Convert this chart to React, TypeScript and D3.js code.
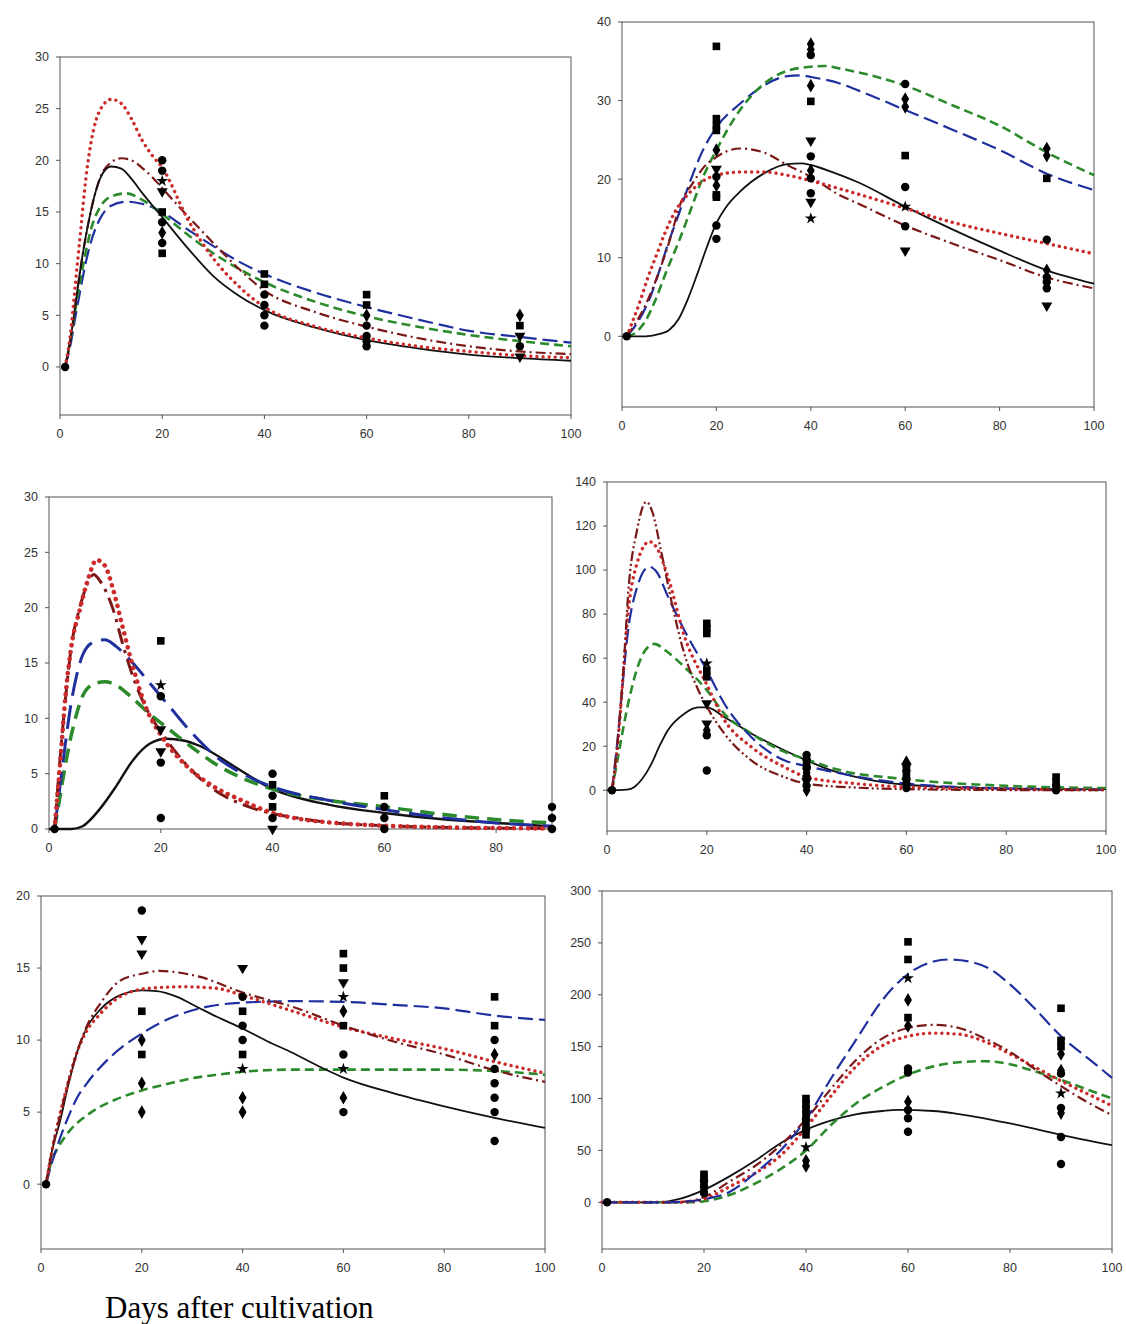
import React from "react";
import * as d3 from "d3";

type Pt = [number, number];
type Mk = [number, number, string];

// ---------- Panel 1 (top-left) ----------
const p1Black: Pt[] = [[1,0],[2,2.5],[3,6],[4,9.5],[5,12.5],[6,15],[7,17],[8,18.4],[10,19.4],[12,19.2],[14,18.2],[16,16.9],[20,14.5],[25,11.5],[30,8.8],[35,6.9],[40,5.5],[50,3.8],[60,2.6],[70,1.8],[80,1.2],[90,0.85],[100,0.6]];
const p1Red: Pt[] = [[1,0],[2,3],[3,8],[4,13],[5,18],[6,21.5],[7,23.8],[8,25],[10,25.9],[12,25.5],[14,24],[16,22],[18,20.5],[20,19.3],[25,14.3],[30,10.5],[35,7.8],[40,5.8],[50,3.9],[60,2.8],[70,2],[80,1.5],[90,1.1],[100,0.9]];
const p1DarkRed: Pt[] = [[1,0],[2,2.5],[3,6],[4,9.5],[5,12.5],[6,15],[7,17],[8,18.5],[10,19.8],[12,20.2],[14,20],[16,19.3],[18,18.4],[20,17.3],[25,14.6],[30,12],[35,9.5],[40,7.4],[50,5.3],[60,3.9],[70,2.8],[80,2],[90,1.5],[100,1.25]];
const p1Green: Pt[] = [[1,0],[2,2.5],[3,5.5],[4,8.5],[5,11],[6,13.2],[8,15.6],[10,16.5],[13,16.8],[16,16.2],[20,14.8],[25,12.8],[30,11],[35,9.5],[40,8.2],[50,6.3],[60,4.9],[70,3.9],[80,3.1],[90,2.5],[100,2.0]];
const p1Blue: Pt[] = [[1,0],[2,2],[3,4.8],[4,7.5],[5,10],[6,12],[8,14.5],[10,15.6],[13,16],[16,15.8],[20,15],[25,13.3],[30,11.7],[35,10.2],[40,9],[50,7.2],[60,5.8],[70,4.6],[80,3.5],[90,2.9],[100,2.35]];
const p1Points: Mk[] = [[1,0,"c"],[20,20,"c"],[20,19,"c"],[20,18,"*"],[20,17,"t"],[20,15,"s"],[20,14,"c"],[20,13,"d"],[20,12,"c"],[20,11,"s"],[40,9,"s"],[40,8,"s"],[40,7,"c"],[40,6,"c"],[40,5,"c"],[40,4,"c"],[60,7,"s"],[60,6,"s"],[60,5,"d"],[60,4,"c"],[60,3,"c"],[60,2.5,"c"],[60,2,"c"],[90,5,"d"],[90,4,"s"],[90,3,"t"],[90,2,"c"],[90,1,"t"]];

// ---------- Panel 2 (top-right) ----------
const p2Black: Pt[] = [[0,0],[5,0],[8,0.3],[10,0.8],[12,2.2],[14,4.8],[16,8],[18,11.4],[20,14.4],[22,16.4],[25,18.4],[30,20.7],[35,21.9],[38,22],[40,21.8],[45,20.8],[50,19.6],[60,16.5],[70,13.6],[80,10.9],[90,8.4],[100,6.7]];
const p2Green: Pt[] = [[1,0],[3,0.5],[5,2],[7,4.5],[9.5,8.4],[12,12],[14.5,16],[17,20],[20,23.7],[25,28.8],[30,32.1],[35,33.8],[40,34.3],[43,34.4],[46,34.1],[50,33.6],[60,31.9],[70,29.4],[80,26.8],[90,23.4],[100,20.5]];
const p2Blue: Pt[] = [[1,0],[3,1.5],[6,5],[8,8.5],[10,12.2],[12,15.5],[14.5,19.8],[17,23.5],[20,26.6],[25,29.6],[30,31.9],[35,33.1],[38,33.2],[40,33],[46,32.2],[50,31.3],[60,28.8],[70,26.3],[80,23.7],[90,20.7],[100,18.6]];
const p2DarkRed: Pt[] = [[1,0],[3,1.8],[5,4],[7.4,7.5],[10,12],[12.4,16.9],[15,19.5],[17.3,21.5],[20,22.8],[22,23.5],[25,23.9],[30,23.4],[35,21.8],[40,20.3],[46,18],[50,16.9],[60,14.1],[70,11.8],[80,9.7],[90,7.5],[100,6.1]];
const p2Red: Pt[] = [[1,0],[2,1.5],[3.9,4.6],[5.5,7.5],[7.4,10.5],[9,13],[11,15.6],[14.5,18.4],[17,19.7],[20,20.5],[25,20.9],[30,20.9],[35,20.5],[40,19.8],[46,18.8],[50,18.1],[60,16.3],[70,14.5],[80,13.1],[90,11.8],[100,10.5]];
const p2Points: Mk[] = [[1,0,"c"],[20,36.9,"s"],[20,27.7,"s"],[20,26.8,"s"],[20,26.2,"s"],[20,23.7,"d"],[20,21.3,"t"],[20,20.3,"c"],[20,19.2,"d"],[20,18,"s"],[20,17.7,"s"],[20,14.1,"c"],[20,12.4,"c"],[40,37.2,"d"],[40,36.5,"d"],[40,35.8,"c"],[40,31.9,"d"],[40,29.9,"s"],[40,24.9,"t"],[40,22.9,"c"],[40,21.1,"d"],[40,20.1,"c"],[40,18.2,"c"],[40,17.1,"t"],[40,15,"*"],[60,32.1,"c"],[60,30.2,"d"],[60,29.2,"d"],[60,23,"s"],[60,19,"c"],[60,16.5,"*"],[60,14,"c"],[60,10.9,"t"],[90,23.9,"d"],[90,23,"d"],[90,20.1,"s"],[90,12.3,"c"],[90,8.4,"d"],[90,7.5,"c"],[90,6.9,"c"],[90,6.1,"c"],[90,3.9,"t"]];

// ---------- Panel 3 (middle-left) ----------
const p3Red: Pt[] = [[1,0],[2,6],[3,12.3],[4,16.5],[5.5,19.8],[7,22.6],[8.5,24.3],[10,23.8],[11.5,21.6],[13.3,18],[15,14.7],[17.5,10.8],[20,8.5],[24.6,5.7],[29.4,3.85],[34.2,2.65],[40,1.45],[45,0.9],[50,0.6],[60,0.3],[70,0.15],[80,0.08],[90,0.05]];
const p3DarkRed: Pt[] = [[1,0],[2,6.5],[3,12],[4,16.5],[5.5,20],[7,22.3],[8,23],[9,22.5],[11.5,19.8],[13.3,16.5],[15,13.8],[17.5,10.8],[20,8.8],[24.6,5.8],[29.4,3.6],[34.2,2.3],[40,1.4],[45,0.95],[50,0.6],[60,0.3],[70,0.15],[80,0.08],[90,0.05]];
const p3Blue: Pt[] = [[1,0],[2,4],[3,8],[4,11.5],[5,14],[6,15.7],[8,16.9],[10,17.1],[12,16.5],[15,15],[18,13.2],[20,12],[22,10.8],[25,9],[30,6.5],[35,4.9],[40,3.8],[50,2.6],[60,1.75],[70,1.05],[80,0.55],[90,0.25]];
const p3Green: Pt[] = [[1,0],[2,3],[3,6],[4,8.5],[5,10.5],[6,12],[8,13.1],[10,13.3],[12,13],[15,11.8],[18,10.4],[20,9.6],[25,7.6],[30,5.8],[35,4.5],[40,3.6],[50,2.6],[60,2.0],[70,1.35],[80,0.85],[90,0.55]];
const p3Black: Pt[] = [[0,0],[4,0],[6,0.25],[9,1.75],[12,3.85],[15,6.2],[18,7.7],[21,8.15],[24,8.0],[27,7.5],[33,5.7],[40,3.6],[50,2.2],[60,1.45],[70,0.9],[80,0.55],[90,0.25]];
const p3Points: Mk[] = [[1,0,"c"],[20,17,"s"],[20,13,"*"],[20,12,"c"],[20,9,"t"],[20,7,"t"],[20,6,"c"],[20,1,"c"],[40,5,"c"],[40,4,"s"],[40,3,"c"],[40,2,"s"],[40,1,"c"],[40,0,"t"],[60,3,"s"],[60,2,"c"],[60,1,"c"],[60,0,"c"],[90,2,"c"],[90,1,"c"],[90,0,"c"]];

// ---------- Panel 4 (middle-right) ----------
const p4DarkRed: Pt[] = [[1,0],[2.2,24],[3.5,62],[4.2,88],[6,118],[7.9,131],[9,127],[10.9,108],[12.9,86],[15.5,62],[18.2,46],[20,38],[23.5,25.8],[28.9,13.6],[35.5,6],[40,3],[50,1.2],[60,0.5],[80,0.1],[100,0]];
const p4Red: Pt[] = [[1,0],[2.2,22],[3,45],[4.2,80],[6,103],[8.5,112.9],[10,110],[12.2,97],[15.5,70],[20,48],[23.5,32],[28.9,19.7],[35.5,10.6],[40,6],[50,3],[60,1.5],[80,0.5],[100,0.2]];
const p4Blue: Pt[] = [[1,0],[2.2,25],[3,45],[4.2,72],[6,92],[8.5,101.5],[10,99],[12.2,88],[15.5,72.7],[20,54.5],[23.5,39.4],[28.9,24.2],[35.5,13.6],[40,11],[46,8],[60,3],[80,0.8],[100,0.2]];
const p4Green: Pt[] = [[1,0],[2.2,15],[4.2,39],[6,55],[7.5,63],[9.5,66.5],[12,63],[15.5,56],[20,45.5],[23.5,34.8],[28.9,25.8],[35,18],[40,14],[46,9.5],[60,5],[80,2],[100,1]];
const p4Black: Pt[] = [[0,0],[4,0.3],[5.5,1.5],[7,5],[8.9,12],[10.5,20],[12.2,27.3],[15.5,34.8],[18.2,37.6],[20,37.6],[23.5,33.3],[28.9,25.8],[35.5,18.2],[40,13.6],[45,9],[50,6],[60,2.5],[80,0.8],[100,0.5]];
const p4Points: Mk[] = [[1,0,"c"],[20,75.8,"s"],[20,73.5,"s"],[20,71.2,"s"],[20,57.6,"*"],[20,54.5,"s"],[20,51.5,"s"],[20,39.4,"t"],[20,30.3,"t"],[20,27.3,"d"],[20,25,"c"],[20,9,"c"],[40,16,"c"],[40,14,"c"],[40,12,"s"],[40,10,"c"],[40,8,"d"],[40,6,"c"],[40,4,"t"],[40,2,"c"],[40,0,"d"],[60,13,"u"],[60,11,"c"],[60,9,"c"],[60,7,"s"],[60,5,"c"],[60,3,"c"],[60,1,"c"],[90,6,"s"],[90,4,"s"],[90,2,"c"],[90,0,"c"]];

// ---------- Panel 5 (bottom-left) ----------
const p5DarkRed: Pt[] = [[1,0],[2,2],[3.8,4.8],[5.5,7.2],[7.1,9.1],[9,10.9],[11.7,12.5],[15.6,14.1],[20,14.6],[23.5,14.8],[27,14.7],[31.4,14.4],[40,13.3],[50,12.3],[60,11],[70,9.9],[80,9],[90,7.9],[100,7.1]];
const p5Red: Pt[] = [[1,0],[2,2],[3.8,4.9],[5.5,7.2],[7.1,9.1],[9,10.6],[11.7,11.8],[15.6,13],[21.6,13.6],[28.2,13.7],[34.7,13.6],[40,13.1],[50,12],[60,10.9],[70,10.1],[80,9.4],[90,8.5],[100,7.7]];
const p5Black: Pt[] = [[1,0],[2,2],[3.8,4.4],[5.5,7],[7.1,9.1],[9,10.8],[11.7,12.1],[15.6,13.1],[20,13.45],[23,13.4],[27,13.0],[31,12.3],[35,11.6],[40,10.8],[45,9.9],[50,9.1],[55,8.2],[60,7.4],[70,6.3],[80,5.4],[90,4.6],[100,3.9]];
const p5Blue: Pt[] = [[1,0],[2,1.3],[3,2.4],[5.1,4.4],[7,5.9],[9.1,7],[13.7,8.8],[20,10.45],[26.2,11.6],[32.8,12.3],[40,12.6],[50,12.7],[60,12.65],[70,12.45],[80,12.2],[90,11.7],[100,11.4]];
const p5Green: Pt[] = [[1,0],[2,1.5],[3.5,2.6],[5,3.4],[10,5.0],[15,5.9],[20,6.5],[25,6.95],[30,7.35],[35,7.6],[40,7.8],[50,7.95],[60,7.95],[70,7.95],[80,7.95],[90,7.85],[100,7.6]];
const p5Points: Mk[] = [[1,0,"c"],[20,19,"c"],[20,17,"t"],[20,16,"t"],[20,12,"s"],[20,10,"d"],[20,9,"s"],[20,7,"d"],[20,5,"d"],[40,15,"t"],[40,13,"c"],[40,12,"s"],[40,11,"c"],[40,10,"c"],[40,9,"s"],[40,8,"*"],[40,6,"d"],[40,5,"d"],[60,16,"s"],[60,15,"s"],[60,14,"t"],[60,13,"*"],[60,12,"d"],[60,11,"s"],[60,9,"c"],[60,8,"*"],[60,6,"d"],[60,5,"c"],[90,13,"s"],[90,11,"s"],[90,10,"c"],[90,9,"d"],[90,8,"c"],[90,7,"c"],[90,6,"c"],[90,5,"c"],[90,3,"c"]];

// ---------- Panel 6 (bottom-right) ----------
const p6Blue: Pt[] = [[0,0],[12,0],[16,0.5],[20,3],[25,10],[30,28],[35,50],[40,80],[45,120],[50,158],[55,195],[60,220],[65,232],[68,234],[72,232],[76,225],[80,210],[85,186],[90,160],[95,140],[100,120]];
const p6DarkRed: Pt[] = [[0,0],[14,0],[18,2],[20,5],[25,20],[30,35],[35,55],[40,80],[45,110],[50,138],[55,158],[60,168],[65,171],[70,168],[75,158],[80,145],[85,128],[90,112],[95,97],[100,84]];
const p6Red: Pt[] = [[0,0],[15,0],[18,1],[20,3],[25,15],[30,28],[35,45],[40,72],[45,103],[50,132],[55,151],[60,160],[65,163],[70,162],[75,155],[80,143],[85,130],[90,117],[95,105],[100,93]];
const p6Green: Pt[] = [[0,0],[18,0],[20,1],[25,7],[30,18],[35,32],[40,50],[45,75],[50,96],[55,111],[60,123],[65,131],[70,135],[75,136],[80,133],[85,126],[90,118],[95,109],[100,100]];
const p6Black: Pt[] = [[0,0],[10,0],[13,1],[15,3],[20,12],[25,25],[30,40],[35,57],[40,70],[45,79],[50,85],[55,88],[58,89],[65,88],[70,85],[80,76],[90,65],[100,55]];
const p6Points: Mk[] = [[1,0,"c"],[20,27,"s"],[20,24,"s"],[20,21,"c"],[20,18,"s"],[20,15,"c"],[20,12,"d"],[20,9,"c"],[40,100,"s"],[40,95,"s"],[40,90,"s"],[40,85,"s"],[40,80,"c"],[40,75,"s"],[40,70,"c"],[40,65,"s"],[40,53,"*"],[40,40,"d"],[40,35,"d"],[60,251,"s"],[60,234,"s"],[60,216,"*"],[60,195,"d"],[60,178,"s"],[60,170,"d"],[60,129,"c"],[60,125,"c"],[60,97,"d"],[60,89,"c"],[60,81,"c"],[60,68,"c"],[90,187,"s"],[90,156,"s"],[90,150,"s"],[90,143,"d"],[90,127,"d"],[90,124,"c"],[90,105,"*"],[90,91,"c"],[90,86,"d"],[90,63,"c"],[90,37,"c"]];

// ticks
const xTicks100 = [0, 20, 40, 60, 80, 100];
const xTicks90 = [0, 20, 40, 60, 80];
const yTicks1 = [0, 5, 10, 15, 20, 25, 30];
const yTicks2 = [0, 10, 20, 30, 40];
const yTicks3 = [0, 5, 10, 15, 20, 25, 30];
const yTicks4 = [0, 20, 40, 60, 80, 100, 120, 140];
const yTicks5 = [0, 5, 10, 15, 20];
const yTicks6 = [0, 50, 100, 150, 200, 250, 300];

const xLabel = "Days after cultivation";

type Series = { key: string; data: Pt[] };
type Panel = {
  l: number; r: number; t: number; b: number;
  xDom: [number, number]; yDom: [number, number];
  xTicks: number[]; yTicks: number[];
  series: Series[]; points: Mk[]; thick?: number; ddot?: boolean;
};

const panels: Panel[] = [
  { l: 60, r: 571, t: 57, b: 415, xDom: [0, 100], yDom: [-4.65, 30], xTicks: xTicks100, yTicks: yTicks1,
    series: [{ key: "blue", data: p1Blue }, { key: "green", data: p1Green }, { key: "darkred", data: p1DarkRed }, { key: "black", data: p1Black }, { key: "red", data: p1Red }], points: p1Points },
  { l: 622, r: 1094, t: 22, b: 407, xDom: [0, 100], yDom: [-9, 40], xTicks: xTicks100, yTicks: yTicks2,
    series: [{ key: "blue", data: p2Blue }, { key: "green", data: p2Green }, { key: "darkred", data: p2DarkRed }, { key: "black", data: p2Black }, { key: "red", data: p2Red }], points: p2Points },
  { l: 49, r: 552, t: 497, b: 829, xDom: [0, 90], yDom: [0, 30], xTicks: xTicks90, yTicks: yTicks3, thick: 1.35,
    series: [{ key: "black", data: p3Black }, { key: "green", data: p3Green }, { key: "blue", data: p3Blue }, { key: "darkred", data: p3DarkRed }, { key: "red", data: p3Red }], points: p3Points },
  { l: 607, r: 1106, t: 482, b: 831, xDom: [0, 100], yDom: [-18.5, 140], xTicks: xTicks100, yTicks: yTicks4, ddot: true,
    series: [{ key: "black", data: p4Black }, { key: "green", data: p4Green }, { key: "blue", data: p4Blue }, { key: "red", data: p4Red }, { key: "darkred", data: p4DarkRed }], points: p4Points },
  { l: 41, r: 545, t: 896, b: 1249, xDom: [0, 100], yDom: [-4.5, 20], xTicks: xTicks100, yTicks: yTicks5,
    series: [{ key: "green", data: p5Green }, { key: "blue", data: p5Blue }, { key: "black", data: p5Black }, { key: "red", data: p5Red }, { key: "darkred", data: p5DarkRed }], points: p5Points },
  { l: 602, r: 1112, t: 891, b: 1249, xDom: [0, 100], yDom: [-45, 300], xTicks: xTicks100, yTicks: yTicks6,
    series: [{ key: "black", data: p6Black }, { key: "green", data: p6Green }, { key: "red", data: p6Red }, { key: "darkred", data: p6DarkRed }, { key: "blue", data: p6Blue }], points: p6Points },
];

const STYLES: Record<string, { stroke: string; width: number; dash?: string; cap?: string }> = {
  black: { stroke: "#111", width: 1.8 },
  red: { stroke: "#cc2b2b", width: 3.4, dash: "0.1 6", cap: "round" },
  darkred: { stroke: "#7a1818", width: 2.2, dash: "10 4 2 4" },
  green: { stroke: "#2b8a2b", width: 2.6, dash: "9 5" },
  blue: { stroke: "#1f2f9e", width: 2.2, dash: "15 6" },
};

function symbolPath(shape: string): { d: string; rot: number } {
  let type: any = d3.symbolCircle;
  let size = 56;
  let rot = 0;
  if (shape === "s") { type = d3.symbolSquare; size = 58; }
  else if (shape === "d") { type = d3.symbolDiamond; size = 54; }
  else if (shape === "t") { type = d3.symbolTriangle; size = 52; rot = 180; }
  else if (shape === "u") { type = d3.symbolTriangle; size = 52; }
  else if (shape === "*") { type = d3.symbolStar; size = 44; }
  return { d: d3.symbol().type(type).size(size)() || "", rot };
}

const FONT = "'Liberation Sans', Arial, sans-serif";

function PanelView({ p }: { p: Panel }) {
  const xs = d3.scaleLinear().domain(p.xDom).range([p.l, p.r]);
  const ys = d3.scaleLinear().domain(p.yDom).range([p.b, p.t]);
  const line = d3.line<Pt>().x((d) => xs(d[0])).y((d) => ys(d[1])).curve(d3.curveMonotoneX);
  const k = p.thick || 1;
  return (
    <g>
      <rect x={p.l} y={p.t} width={p.r - p.l} height={p.b - p.t} fill="none" stroke="#555" strokeWidth={1} />
      {p.xTicks.map((t) => (
        <g key={"x" + t}>
          <line x1={xs(t)} x2={xs(t)} y1={p.b} y2={p.b + 4} stroke="#555" />
          <text x={xs(t)} y={p.b + 19} dy="0.35em" textAnchor="middle" fontSize={12.5} fill="#333" fontFamily={FONT}>{t}</text>
        </g>
      ))}
      {p.yTicks.map((t) => (
        <g key={"y" + t}>
          <line x1={p.l - 4} x2={p.l} y1={ys(t)} y2={ys(t)} stroke="#555" />
          <text x={p.l - 11} y={ys(t)} dy="0.35em" textAnchor="end" fontSize={12.5} fill="#333" fontFamily={FONT}>{t}</text>
        </g>
      ))}
      {p.series.map((s) => {
        const st = STYLES[s.key];
        let dash = st.dash;
        if (s.key === "darkred" && p.ddot) dash = "10 3 2 3 2 3";
        if (k !== 1 && dash && s.key !== "red") dash = dash.split(" ").map((v) => String(parseFloat(v) * 1.6)).join(" ");
        if (k !== 1 && s.key === "red") dash = "0.1 7";
        return (
          <path key={s.key} d={line(s.data) || ""} fill="none" stroke={st.stroke} strokeWidth={st.width * k}
            strokeDasharray={dash} strokeLinecap={(st.cap as any) || "butt"} />
        );
      })}
      {p.points.map((m, i) => {
        const sp = symbolPath(m[2]);
        return (
          <path key={i} d={sp.d} fill="#000" transform={`translate(${xs(m[0])},${ys(m[1])}) rotate(${sp.rot})`} />
        );
      })}
    </g>
  );
}

export default function App() {
  return (
    <svg width={1126} height={1324} style={{ position: "absolute", left: 0, top: 0, background: "#fff" }}>
      <rect x={0} y={0} width={1126} height={1324} fill="#fff" />
      {panels.map((p, i) => <PanelView key={i} p={p} />)}
      <text x={105} y={1318} fontSize={31} fontFamily="'Liberation Serif', 'Times New Roman', serif" fill="#000">{xLabel}</text>
    </svg>
  );
}
